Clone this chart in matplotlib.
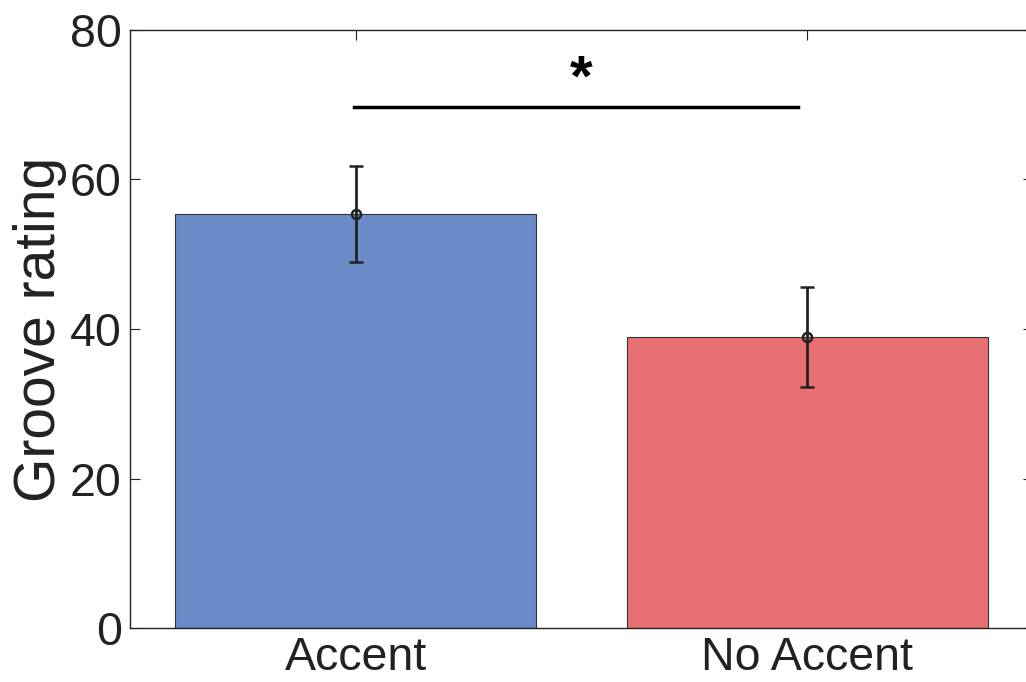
import matplotlib.pyplot as plt

plt.rcParams['font.family'] = ['Liberation Sans', 'DejaVu Sans']

conditions = ['Accent', 'No Accent']
ratings = [55.4, 38.9]
errors = [6.4, 6.7]
bar_colors = ['#6A8BC7', '#E87073']
sig_level = 69.7
sig_mark = '*'

fig = plt.figure(figsize=(10.26, 6.82), dpi=100)
ax = fig.add_axes([130 / 1026, 1 - 628 / 682, 903 / 1026, 598 / 682])

x = [1, 2]
ax.bar(x, ratings, width=0.8, color=bar_colors, edgecolor='#333333', linewidth=0.8, zorder=2)
ax.errorbar(x, ratings, yerr=errors, fmt='o', color='#222222', ecolor='#222222',
            elinewidth=2, capsize=5, capthick=2, markersize=6.5,
            markerfacecolor='none', markeredgewidth=1.8, zorder=3)

# significance bracket
ax.plot([0.997, 1.98], [sig_level, sig_level], color='black', linewidth=2.5, zorder=3)
ax.text(1.5, sig_level + 1.5, sig_mark, ha='center', va='baseline', fontsize=42,
        fontweight='bold')

ax.set_xlim(0.5, 2.5)
ax.set_ylim(0, 80)
ax.set_xticks(x)
ax.set_xticklabels(conditions)
ax.set_yticks([0, 20, 40, 60, 80])
ax.tick_params(direction='in', top=True, right=True, length=7, width=0.8,
               labelsize=33.5, colors='#222222', pad=6)
for s in ax.spines.values():
    s.set_linewidth(1.0)
    s.set_color('#222222')
ax.set_ylabel('Groove rating', fontsize=41, color='#222222', labelpad=2)

fig.savefig('out.png', dpi=100)
